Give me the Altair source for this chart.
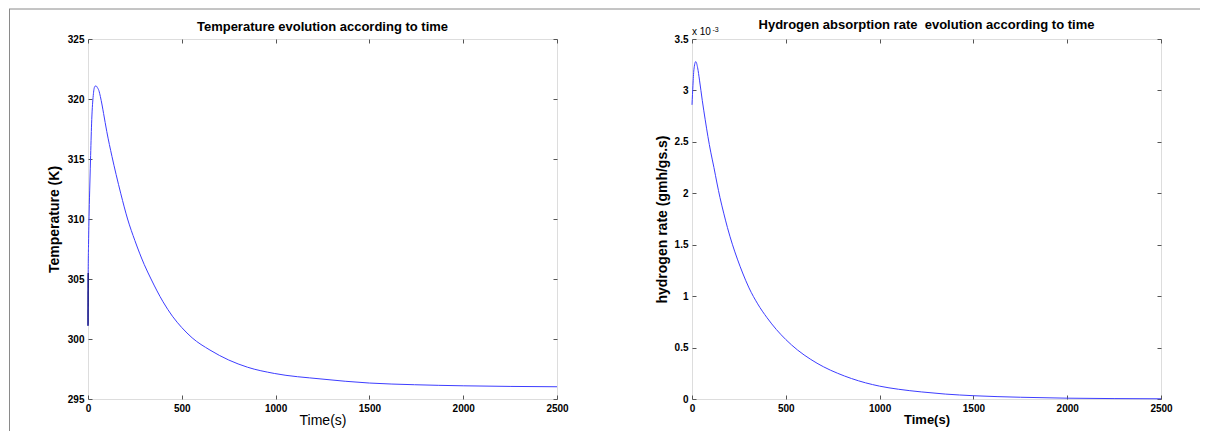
import altair as alt
import pandas as pd

# ---- data ----
temp_time = [0, 1, 3, 6, 10, 14, 20, 28, 35, 42, 50, 58, 66, 75, 83, 100, 128, 150, 175, 211, 250,
             300, 336, 400, 450, 500, 555, 650, 750, 850, 993, 1242, 1500, 1740, 2000, 2500]
temp_K = [301.1, 305.5, 308.0, 310.5, 313.0, 315.3, 318.3, 320.3, 321.0, 321.1, 320.95, 320.7,
          320.2, 319.5, 318.8, 317.3, 315.2, 313.7, 312.1, 310.0, 308.2, 306.2, 305.0, 303.1,
          301.9, 300.95, 300.1, 299.08, 298.25, 297.65, 297.13, 296.67, 296.33, 296.19, 296.1,
          296.02]

rate_time = [0, 5, 10, 20, 30, 40, 55, 70, 85, 100, 117, 133, 149, 170, 189, 215, 242, 270, 304,
             350, 400, 450, 500, 562, 633, 700, 775, 850, 1000, 1100, 1222, 1350, 1500, 1752,
             2000, 2250, 2500]
rate_e3 = [2.86, 3.05, 3.2, 3.28, 3.22, 3.10, 2.90, 2.72, 2.55, 2.40, 2.25, 2.10, 1.96, 1.80,
           1.666, 1.505, 1.36, 1.225, 1.08, 0.925, 0.79, 0.675, 0.578, 0.477, 0.385, 0.314,
           0.251, 0.199, 0.125, 0.095, 0.069, 0.048, 0.032, 0.017, 0.008, 0.004, 0.002]

x_ticks = [0, 500, 1000, 1500, 2000, 2500]
temp_ticks = [295, 300, 305, 310, 315, 320, 325]
rate_ticks = [0, 0.5, 1, 1.5, 2, 2.5, 3, 3.5]

temp_title = "Temperature evolution according to time"
rate_title = "Hydrogen absorption rate \u00a0evolution according to time"

FONT = "Liberation Sans"
LINE = "#3d3dff"
W, H = 469, 360

df_t = pd.DataFrame({"t": temp_time, "v": temp_K})
df_r = pd.DataFrame({"t": rate_time, "v": rate_e3})
one = pd.DataFrame({"a": [0]})


def tick_axis(orient, values, labels=True, title=None, title_bold=True, title_size=14, fmt=None,
              title_pad=0):
    kw = dict(orient=orient, values=values, offset=-4, tickSize=4, domain=False,
              tickColor="#555555", tickWidth=1, grid=False)
    if labels:
        kw.update(labels=True, labelFontSize=10, labelFontWeight="bold", labelColor="black",
                  labelFont=FONT, labelPadding=4, labelFlush=False, labelOverlap=False,
                  labelBound=False)
        if fmt is not None:
            kw["format"] = fmt
    else:
        kw.update(labels=False)
    if title is not None:
        kw.update(title=title, titleFontSize=title_size, titleFont=FONT, titleColor="black",
                  titleFontWeight="bold" if title_bold else "normal", titlePadding=title_pad)
    else:
        kw.update(title=None)
    return alt.Axis(**kw)


def panel(df, ydom, yticks, ytitle, xtitle_bold, yfmt, ypad):
    xs = alt.Scale(domain=[0, 2500], nice=False, zero=False)
    ys = alt.Scale(domain=ydom, nice=False, zero=False)
    main = alt.Chart(df).mark_line(color=LINE, strokeWidth=1, interpolate="monotone").encode(
        x=alt.X("t:Q", scale=xs,
                axis=tick_axis("bottom", x_ticks, True, "Time(s)", xtitle_bold,
                               13 if xtitle_bold else 14, "d", 0)),
        y=alt.Y("v:Q", scale=ys,
                axis=tick_axis("left", yticks, True, ytitle, True, 14, yfmt, ypad)),
    )
    ghost = alt.Chart(df).mark_line(opacity=0).encode(
        x=alt.X("t:Q", scale=xs, axis=tick_axis("top", x_ticks, False)),
        y=alt.Y("v:Q", scale=ys, axis=tick_axis("right", yticks, False)),
    )
    return main, ghost, xs, ys


l_main, l_ghost, lxs, lys = panel(df_t, [295, 325], temp_ticks, "Temperature (K)", False, "d", 6)
r_main, r_ghost, rxs, rys = panel(df_r, [0, 3.5], rate_ticks, "hydrogen rate (gmh/gs.s)", True, "", 5)

# dark start segment (first two samples) as in the reference
l_start = alt.Chart(df_t.iloc[:2]).mark_line(color="#101070", strokeWidth=1.3).encode(
    x=alt.X("t:Q", scale=lxs, axis=None), y=alt.Y("v:Q", scale=lys, axis=None))

frame_v = alt.Chart(one).mark_rule(color="#8a8a8a", strokeWidth=1).encode(
    x=alt.value(-78.5), y=alt.value(-30), y2=alt.value(392))
frame_h = alt.Chart(one).mark_rule(color="#8a8a8a", strokeWidth=1).encode(
    x=alt.value(-79), x2=alt.value(1112), y=alt.value(-30))

mult = alt.Chart(one).mark_text(text="x 10", align="left", baseline="alphabetic", fontSize=10,
                                font=FONT, color="black").encode(x=alt.value(0), y=alt.value(-4.5))
mult_exp = alt.Chart(one).mark_text(text="-3", align="left", baseline="alphabetic", fontSize=7,
                                    font=FONT, color="black").encode(x=alt.value(20.5), y=alt.value(-7.5))

title_kw = dict(fontSize=13, fontWeight="bold", font=FONT, color="black", offset=7, anchor="middle")

left = alt.layer(l_main, l_ghost, l_start, frame_v, frame_h).resolve_axis(
    x="independent", y="independent").properties(
    width=W, height=H, title=alt.TitleParams(temp_title, dy=32.5, **title_kw))
right = alt.layer(r_main, r_ghost, mult, mult_exp).resolve_axis(
    x="independent", y="independent").properties(
    width=W, height=H, title=alt.TitleParams(rate_title, dy=13.2, **title_kw))

chart = alt.hconcat(left, right, spacing=135, bounds="flush").properties(
    padding={"left": 0, "top": 0, "right": 0, "bottom": 0}
).configure_view(stroke="#555555", strokeWidth=1, fill="white").configure(background="white")

chart.save("out.html", embed_options={"renderer": "svg", "actions": False})
